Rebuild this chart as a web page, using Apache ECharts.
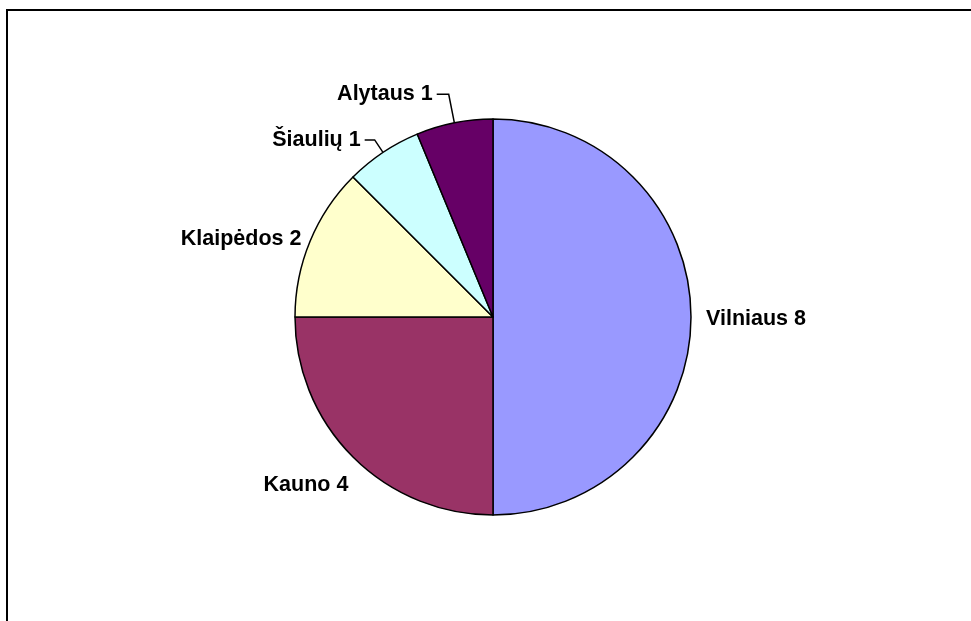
<!DOCTYPE html>
<html>
<head>
<meta charset="utf-8">
<script src="https://cdn.jsdelivr.net/npm/echarts@6/dist/echarts.min.js"></script>
<style>
html,body{margin:0;padding:0;background:#fff;}
#chart{width:971px;height:621px;}
</style>
</head>
<body>
<div id="chart"></div>
<script>
const categories = ['Vilniaus', 'Kauno', 'Klaipėdos', 'Šiaulių', 'Alytaus'];
const values = [8, 4, 2, 1, 1];
const colors = ['#9999FF', '#993366', '#FFFFCC', '#CCFFFF', '#660066'];

// label-line styling per slice (hidden for the big slices)
const lineShow = [false, false, false, true, true];
const lineLen = [11, 15, 5, 15, 29];
const lineLen2 = [0, 0, 0, 10, 12];

const chart = echarts.init(document.getElementById('chart'), null, {renderer: 'canvas'});

const data = categories.map((c, i) => ({
  name: c,
  value: values[i],
  itemStyle: {color: colors[i]},
  labelLine: {show: lineShow[i], length: lineLen[i], length2: lineLen2[i]}
}));

chart.setOption({
  backgroundColor: '#ffffff',
  animation: false,
  graphic: [
    {type: 'line', shape: {x1: 6, y1: 10, x2: 971, y2: 10}, style: {stroke: '#000', lineWidth: 2}},
    {type: 'line', shape: {x1: 7, y1: 9, x2: 7, y2: 621}, style: {stroke: '#000', lineWidth: 2}}
  ],
  series: [{
    type: 'pie',
    center: [493, 317],
    radius: 198,
    startAngle: 90,
    clockwise: true,
    avoidLabelOverlap: false,
    data: data,
    itemStyle: {borderColor: '#000', borderWidth: 1.5},
    emphasis: {disabled: true},
    label: {
      show: true,
      position: 'outside',
      formatter: '{b} {c}',
      color: '#000',
      fontFamily: 'Liberation Sans, Arial, sans-serif',
      fontWeight: 'bold',
      fontSize: 21.5,
      distanceToLabelLine: 4
    },
    labelLine: {lineStyle: {color: '#000', width: 1.5}},
    labelLayout: function (p) {
      if (p.dataIndex === 1) return {dx: 10, dy: 17};
      if (p.dataIndex === 0) return {dy: 2};
      return {};
    }
  }]
});
</script>
</body>
</html>
